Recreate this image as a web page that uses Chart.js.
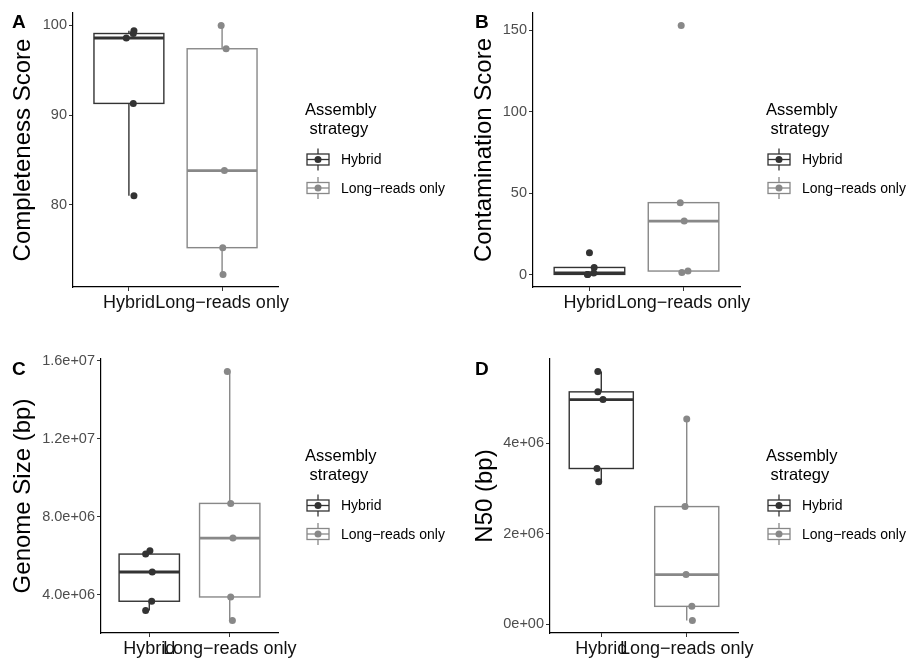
<!DOCTYPE html>
<html>
<head>
<meta charset="utf-8">
<script src="https://cdn.jsdelivr.net/npm/chart.js@4.4.0/dist/chart.umd.min.js"></script>
<style>
  body { margin: 0; background: #fff; }
  #wrap { position: relative; width: 909px; height: 662px; }
  #wrap canvas { position: absolute; }
</style>
</head>
<body>
<div id="wrap">
  <canvas id="panelA" width="455" height="331" style="left:0;top:0"></canvas>
  <canvas id="panelB" width="454" height="331" style="left:455px;top:0"></canvas>
  <canvas id="panelC" width="455" height="331" style="left:0;top:331px"></canvas>
  <canvas id="panelD" width="454" height="331" style="left:455px;top:331px"></canvas>
</div>
<script>
const groups = ['Hybrid', 'Long\u2212reads only'];

const completenessHybrid = [99.4, 99.1, 98.6, 91.3, 81.0];
const completenessLong = [100.0, 97.4, 83.8, 75.2, 72.2];
const completenessJitterHybrid = [0.054, 0.047, -0.028, 0.047, 0.054];
const completenessJitterLong = [-0.01, 0.043, 0.025, 0.007, 0.01];
const completenessTicks = [80, 90, 100];
const completenessTickLabels = ['80', '90', '100'];

const contaminationHybrid = [13.5, 4.4, 1.0, 0.15, 0.05];
const contaminationLong = [153.0, 44.2, 32.9, 2.2, 1.3];
const contaminationJitterHybrid = [0.0, 0.05, 0.045, -0.02, -0.02];
const contaminationJitterLong = [-0.025, -0.035, 0.007, 0.047, -0.018];
const contaminationTicks = [0, 50, 100, 150];
const contaminationTickLabels = ['0', '50', '100', '150'];

const genomeHybrid = [6.25e6, 6.08e6, 5.16e6, 3.66e6, 3.18e6];
const genomeLong = [1.545e7, 8.68e6, 6.9e6, 3.88e6, 2.67e6];
const genomeJitterHybrid = [0.008, -0.045, 0.037, 0.03, -0.045];
const genomeJitterLong = [-0.03, 0.012, 0.04, 0.012, 0.033];
const genomeTicks = [4e6, 8e6, 1.2e7, 1.6e7];
const genomeTickLabels = ['4.0e+06', '8.0e+06', '1.2e+07', '1.6e+07'];

const n50Hybrid = [5.58e6, 5.13e6, 4.96e6, 3.44e6, 3.15e6];
const n50Long = [4.53e6, 2.6e6, 1.1e6, 0.4e6, 0.087e6];
const n50JitterHybrid = [-0.04, -0.04, 0.02, -0.05, -0.03];
const n50JitterLong = [0.0, -0.02, -0.008, 0.06, 0.066];
const n50Ticks = [0, 2e6, 4e6];
const n50TickLabels = ['0e+00', '2e+06', '4e+06'];

const groupColors = ['#333333', '#888888'];
const FONT = '"Liberation Sans", Arial, Helvetica, sans-serif';

// type 7 quantile, same as R's default
function quantile(sorted, p) {
  const h = (sorted.length - 1) * p;
  const lo = Math.floor(h);
  const next = lo + 1 < sorted.length ? sorted[lo + 1] : sorted[lo];
  return sorted[lo] + (h - lo) * (next - sorted[lo]);
}

function boxStats(values) {
  const s = [...values].sort((a, b) => a - b);
  const q1 = quantile(s, 0.25), med = quantile(s, 0.5), q3 = quantile(s, 0.75);
  const iqr = q3 - q1;
  const lo = Math.min(...s.filter(v => v >= q1 - 1.5 * iqr));
  const hi = Math.max(...s.filter(v => v <= q3 + 1.5 * iqr));
  return { q1, med, q3, lo, hi };
}

// boxes + whiskers under the points
const boxPlugin = {
  id: 'boxes',
  beforeDatasetsDraw(chart, args, opts) {
    const { ctx, scales: { x, y } } = chart;
    opts.sets.forEach((values, i) => {
      const st = boxStats(values);
      const cx = x.getPixelForValue(i + 1);
      const x0 = x.getPixelForValue(i + 1 - 0.375);
      const x1 = x.getPixelForValue(i + 1 + 0.375);
      const yt = y.getPixelForValue(st.q3);
      const yb = y.getPixelForValue(st.q1);
      const ym = y.getPixelForValue(st.med);
      ctx.save();
      ctx.strokeStyle = groupColors[i];
      ctx.lineWidth = 1.4;
      ctx.beginPath();
      ctx.moveTo(cx, yt); ctx.lineTo(cx, y.getPixelForValue(st.hi));
      ctx.moveTo(cx, yb); ctx.lineTo(cx, y.getPixelForValue(st.lo));
      ctx.stroke();
      ctx.fillStyle = '#ffffff';
      ctx.fillRect(x0, yt, x1 - x0, yb - yt);
      ctx.strokeRect(x0, yt, x1 - x0, yb - yt);
      ctx.lineWidth = 2.8;
      ctx.beginPath();
      ctx.moveTo(x0, ym); ctx.lineTo(x1, ym);
      ctx.stroke();
      ctx.restore();
    });
  }
};

// panel letter and the "Assembly strategy" legend
const decorPlugin = {
  id: 'decor',
  afterDraw(chart, args, opts) {
    const { ctx, chartArea } = chart;
    const mid = (chartArea.top + chartArea.bottom) / 2;
    ctx.save();
    ctx.fillStyle = '#000';
    ctx.textBaseline = 'alphabetic';
    ctx.font = 'bold 19px ' + FONT;
    ctx.fillText(opts.letter, opts.letterX, opts.letterY);

    const lx = opts.legendX;
    ctx.font = '16.5px ' + FONT;
    ctx.fillText('Assembly', lx - 2, mid - 35);
    ctx.fillText(' strategy', lx - 2, mid - 16);

    ctx.font = '14px ' + FONT;
    ctx.textBaseline = 'middle';
    groups.forEach((g, i) => {
      const cy = mid + 9.5 + i * 28.5;
      const cx = lx + 11;
      ctx.strokeStyle = groupColors[i];
      ctx.lineWidth = 1.3;
      ctx.beginPath();
      ctx.moveTo(cx, cy - 11); ctx.lineTo(cx, cy + 11);
      ctx.stroke();
      ctx.fillStyle = '#fff';
      ctx.fillRect(lx, cy - 5.5, 22, 11);
      ctx.strokeRect(lx, cy - 5.5, 22, 11);
      ctx.beginPath();
      ctx.moveTo(lx, cy); ctx.lineTo(lx + 22, cy);
      ctx.stroke();
      ctx.fillStyle = groupColors[i];
      ctx.beginPath();
      ctx.arc(cx, cy, 3.5, 0, Math.PI * 2);
      ctx.fill();
      ctx.fillStyle = '#000';
      ctx.fillText(g, lx + 34, cy + 1);
    });
    ctx.restore();
  }
};

function makePanel(id, p) {
  const all = p.hybrid.concat(p.long);
  const lo = Math.min(...all), hi = Math.max(...all);
  const pad = (hi - lo) * 0.05;

  new Chart(document.getElementById(id), {
    type: 'scatter',
    data: {
      datasets: [
        {
          data: p.hybrid.map((v, k) => ({ x: 1 + p.jitterHybrid[k], y: v })),
          backgroundColor: groupColors[0], borderWidth: 0, pointRadius: 3.5
        },
        {
          data: p.long.map((v, k) => ({ x: 2 + p.jitterLong[k], y: v })),
          backgroundColor: groupColors[1], borderWidth: 0, pointRadius: 3.5
        }
      ]
    },
    options: {
      responsive: false,
      devicePixelRatio: 1,
      animation: false,
      events: [],
      layout: { padding: { left: 0, top: p.top, right: p.right, bottom: 0 } },
      scales: {
        x: {
          type: 'linear', min: 0.4, max: 2.6,
          afterBuildTicks: s => { s.ticks = [{ value: 1 }, { value: 2 }]; },
          afterFit: s => { s.height = p.xHeight; },
          border: { color: '#000', width: 1.2 },
          grid: { drawOnChartArea: false, tickLength: 4, tickColor: '#333' },
          ticks: {
            autoSkip: false, maxRotation: 0, minRotation: 0, padding: 1,
            color: '#111', font: { size: 18, family: FONT },
            callback: (v, i) => groups[i]
          }
        },
        y: {
          min: lo - pad, max: hi + pad,
          afterBuildTicks: s => { s.ticks = p.ticks.map(v => ({ value: v })); },
          afterFit: s => { s.width = p.yWidth; },
          border: { color: '#000', width: 1.2 },
          grid: { drawOnChartArea: false, tickLength: 4, tickColor: '#333' },
          ticks: {
            padding: 2, color: '#4D4D4D', font: { size: 14.5, family: FONT },
            callback: (v, i) => p.tickLabels[i]
          },
          title: {
            display: true, text: p.title, color: '#000',
            font: { size: 24, family: FONT, lineHeight: 1 },
            padding: { top: p.titlePad, bottom: 0 }
          }
        }
      },
      plugins: {
        legend: { display: false },
        tooltip: { enabled: false },
        boxes: { sets: [p.hybrid, p.long] },
        decor: { letter: p.letter, letterX: p.letterX, letterY: p.letterY, legendX: p.legendX }
      }
    },
    plugins: [boxPlugin, decorPlugin]
  });
}

makePanel('panelA', {
  hybrid: completenessHybrid, long: completenessLong,
  jitterHybrid: completenessJitterHybrid, jitterLong: completenessJitterLong,
  ticks: completenessTicks, tickLabels: completenessTickLabels,
  title: 'Completeness Score', letter: 'A',
  top: 13, right: 177, yWidth: 73, xHeight: 44, titlePad: 11,
  letterX: 12, letterY: 28, legendX: 307
});

makePanel('panelB', {
  hybrid: contaminationHybrid, long: contaminationLong,
  jitterHybrid: contaminationJitterHybrid, jitterLong: contaminationJitterLong,
  ticks: contaminationTicks, tickLabels: contaminationTickLabels,
  title: 'Contamination Score', letter: 'B',
  top: 13, right: 169, yWidth: 78, xHeight: 44, titlePad: 17,
  letterX: 20, letterY: 28, legendX: 313
});

makePanel('panelC', {
  hybrid: genomeHybrid, long: genomeLong,
  jitterHybrid: genomeJitterHybrid, jitterLong: genomeJitterLong,
  ticks: genomeTicks, tickLabels: genomeTickLabels,
  title: 'Genome Size (bp)', letter: 'C',
  top: 28, right: 177, yWidth: 101, xHeight: 29, titlePad: 11,
  letterX: 12, letterY: 44, legendX: 307
});

makePanel('panelD', {
  hybrid: n50Hybrid, long: n50Long,
  jitterHybrid: n50JitterHybrid, jitterLong: n50JitterLong,
  ticks: n50Ticks, tickLabels: n50TickLabels,
  title: 'N50 (bp)', letter: 'D',
  top: 28, right: 171, yWidth: 95, xHeight: 29, titlePad: 18,
  letterX: 20, letterY: 44, legendX: 313
});
</script>
</body>
</html>
